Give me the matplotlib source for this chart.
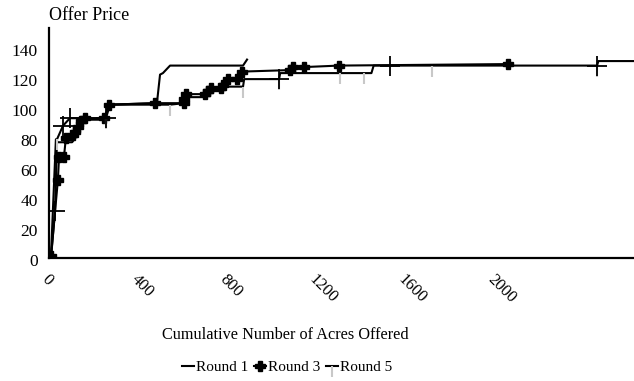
import matplotlib
matplotlib.use("Agg")
import matplotlib.pyplot as plt
import matplotlib.transforms as mtransforms

plt.rcParams['font.family'] = ['Liberation Serif', 'DejaVu Serif']

# values (acres, offer price)
r1_acres = [0, 22, 30, 60, 95, 110, 130, 150, 240, 260, 476, 490, 503, 535, 863, 881]
r1_price = [2, 79, 77, 77, 77, 80, 92, 92, 92, 102, 103, 122, 123, 128, 128, 132]

r3_acres = [0, 31, 36, 58, 67, 99, 108, 121, 135, 153, 240, 261, 467, 598, 598, 607,
            692, 706, 719, 764, 773, 796, 836, 858, 1074, 1088, 1137, 1294, 2054]
r3_price = [1, 52, 67, 67, 80, 82, 84, 87, 91, 93, 93, 102, 103, 103, 106, 109,
            109, 111, 113, 113, 115, 119, 119, 124, 125, 127, 127, 128, 129]

r5_acres = [0, 18, 27, 54, 85, 247, 265, 535, 598, 602, 690, 695, 760, 762, 863, 868,
            1025, 1030, 1300, 1407, 1440, 1450, 1524, 1712, 2454, 2460, 2700]
r5_price = [0, 31, 79, 88, 93, 93, 102, 102, 103, 107, 107, 111, 111, 114, 114, 119,
            119, 123, 123, 123, 123, 128, 128, 128, 128, 131, 131]
r5_cross = [1, 3, 4, 5, 16, 22, 24]
r5_tick = [0, 2, 5, 7, 14, 16, 18, 19, 23, 24]

x_ticks = [0, 400, 800, 1200, 1600, 2000]
y_ticks = [0, 20, 40, 60, 80, 100, 120, 140]

fig = plt.figure(figsize=(6.34, 3.81), dpi=100)
ax = fig.add_axes([49 / 634, 1 - 258 / 381, 585 / 634, 230 / 381])

down_tick = [(0, 0), (0, -1)]

ax.plot(r1_acres, r1_price, color='black', lw=1.5, label='Round 1')
ax.plot(r3_acres, r3_price, color='black', lw=1.5, marker='P', ms=6.5,
        mfc='black', mec='black', label='Round 3')
ax.plot(r5_acres, r5_price, color='black', lw=1.5, marker=down_tick, ms=16,
        mec='#c8c8c8', mew=1.5, markevery=r5_tick, label='Round 5')
ax.plot(r5_acres, r5_price, ls='none', marker='+', ms=14, mew=1.3,
        color='black', markevery=r5_cross)

ax.set_xlim(-9, 2620)
ax.set_ylim(0, 153)
ax.set_xticks(x_ticks)
ax.set_xticklabels([str(v) for v in x_ticks], rotation=-45, ha='left', va='top',
                   fontsize=12)
ax.set_yticks(y_ticks)
ax.tick_params(length=0)
ax.tick_params(axis='y', pad=8, labelsize=12.5)
ax.tick_params(axis='x', pad=10)
xshift = mtransforms.ScaledTranslation(-0.12, 0, fig.dpi_scale_trans)
for lbl in ax.get_xticklabels():
    lbl.set_transform(lbl.get_transform() + xshift)
yshift = mtransforms.ScaledTranslation(0, -0.025, fig.dpi_scale_trans)
for lbl in ax.get_yticklabels():
    lbl.set_transform(lbl.get_transform() + yshift)

for s in ['top', 'right']:
    ax.spines[s].set_visible(False)
for s in ['left', 'bottom']:
    ax.spines[s].set_linewidth(1.6)

fig.text(49 / 634, 1 - 15 / 381, 'Offer Price', ha='left', va='center', fontsize=13)
fig.text(285 / 634, 1 - 335 / 381, 'Cumulative Number of Acres Offered',
         ha='center', va='center', fontsize=11.7)

leg = ax.legend(loc='center', bbox_to_anchor=(287 / 634, 1 - 367 / 381),
                bbox_transform=fig.transFigure, ncol=3, frameon=False,
                handlelength=0.8, handletextpad=0.15, columnspacing=0.35,
                fontsize=11, borderpad=0)

fig.savefig('out.png', dpi=100)
